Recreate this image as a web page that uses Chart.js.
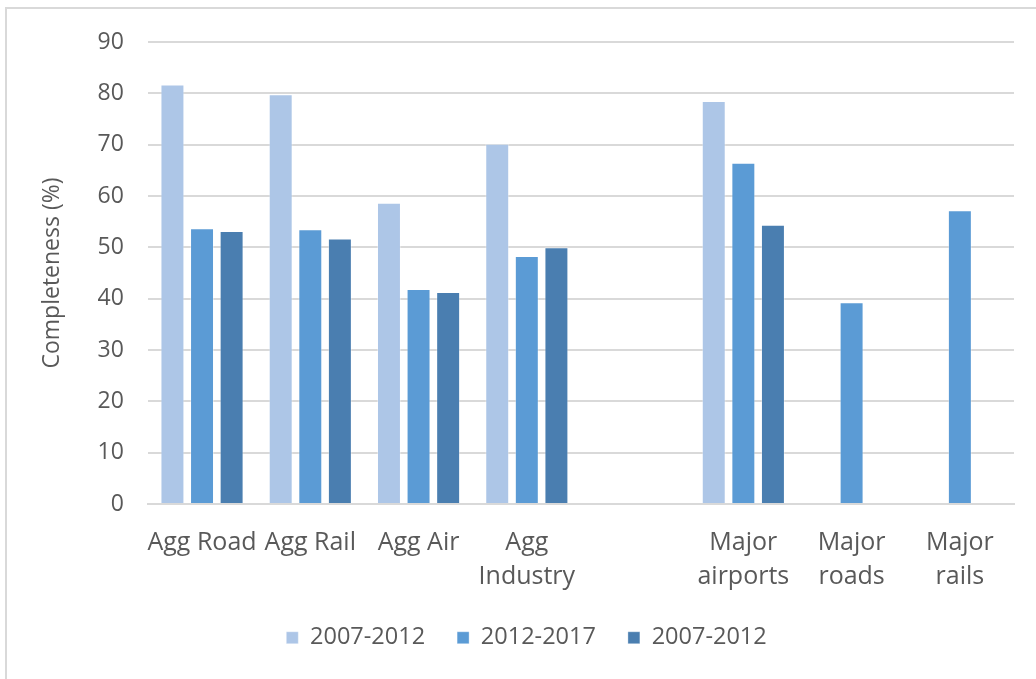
<!DOCTYPE html>
<html>
<head>
<meta charset="utf-8">
<script src="https://cdn.jsdelivr.net/npm/chart.js@4/dist/chart.umd.min.js"></script>
<style>
  html, body { margin: 0; padding: 0; background: #fff; }
  #frame {
    position: absolute; left: 5px; top: 7px; width: 1100px; height: 700px;
    border-top: 2px solid #d9d9d9; border-left: 2px solid #d9d9d9;
  }
  #wrap { position: absolute; left: 0; top: 0; width: 1036px; height: 679px; }
</style>
</head>
<body>
<div id="frame"></div>
<div id="wrap"><canvas id="chart" width="1036" height="679"></canvas></div>
<script>
// Categories (one empty slot separates the aggregated and major groups)
const categories = [
    'Agg Road', 'Agg Rail', 'Agg Air', ['Agg', 'Industry'], '',
    ['Major', 'airports'], ['Major', 'roads'], ['Major', 'rails']
];

const seriesNames = ['2007-2012', '2012-2017', '2007-2012'];

// Completeness (%) per category
const series1 = [81.7, 79.8, 58.7, 70.2, null, 78.5, null, null];
const series2 = [53.7, 53.5, 41.9, 48.3, null, 66.5, 39.3, 57.2];
const series3 = [53.2, 51.7, 41.3, 50.0, null, 54.4, null, null];

const yTicks = [0, 10, 20, 30, 40, 50, 60, 70, 80, 90];

const COLORS = ['#adc6e7', '#5b9bd5', '#4a7eb0'];
const FONT = "'Open Sans', sans-serif";
const TEXT = '#595959';

// legend padding is wide (item spacing); lift the row so it sits close under the axis labels
const LEGEND_LIFT = 22;
const legendLift = {
    id: 'legendLift',
    afterLayout(chart) {
        chart.legend.top -= LEGEND_LIFT;
        chart.legend.bottom -= LEGEND_LIFT;
    }
};

function makeDataset(label, values, color) {
    return {
        label: label,
        data: values,
        backgroundColor: color,
        borderColor: 'rgba(255,255,255,0.35)',
        borderWidth: 1,
        categoryPercentage: 0.82,
        barPercentage: 0.81
    };
}

const ctx = document.getElementById('chart').getContext('2d');
new Chart(ctx, {
    type: 'bar',
    data: {
        labels: categories,
        datasets: [
            makeDataset(seriesNames[0], series1, COLORS[0]),
            makeDataset(seriesNames[1], series2, COLORS[1]),
            makeDataset(seriesNames[2], series3, COLORS[2])
        ]
    },
    plugins: [legendLift],
    options: {
        responsive: false,
        animation: false,
        layout: { padding: { left: 39, right: 22, top: 42, bottom: 0 } },
        plugins: {
            legend: {
                position: 'bottom',
                maxHeight: 63,
                labels: {
                    color: TEXT,
                    font: { family: FONT, size: 23.5 },
                    boxWidth: 12,
                    boxHeight: 12,
                    padding: 32
                }
            },
            tooltip: { enabled: false }
        },
        scales: {
            x: {
                grid: { display: false, drawTicks: false },
                border: { color: '#d9d9d9', width: 2 },
                ticks: {
                    color: TEXT,
                    font: { family: FONT, size: 25, lineHeight: 1.36 },
                    padding: 22,
                    maxRotation: 0,
                    autoSkip: false
                }
            },
            y: {
                min: 0,
                max: 90,
                afterBuildTicks: axis => { axis.ticks = yTicks.map(v => ({ value: v })); },
                grid: { color: '#d9d9d9', lineWidth: 2, drawTicks: false },
                border: { display: false },
                ticks: {
                    color: TEXT,
                    font: { family: FONT, size: 23 },
                    padding: 24
                },
                title: {
                    display: true,
                    text: 'Completeness (%)',
                    color: TEXT,
                    font: { family: FONT, size: 23 },
                    padding: { top: 0, bottom: 7 }
                }
            }
        }
    }
});
</script>
</body>
</html>
